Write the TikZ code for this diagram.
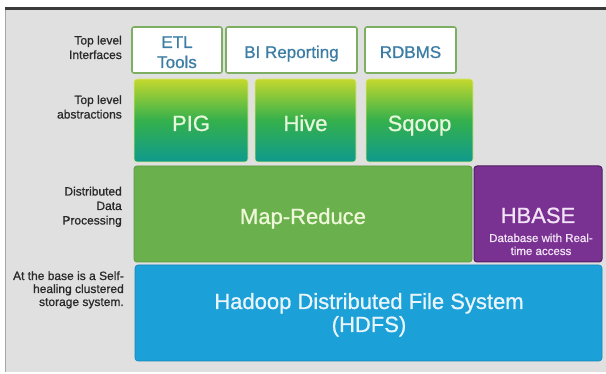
\documentclass[tikz,border=0pt]{standalone}
\usepackage{fontspec}
\setmainfont{Liberation Sans}
\newfontfamily\heavyfont{Liberation Sans}[FakeBold=0.9]
\definecolor{bggray}{HTML}{E0E0E0}
\definecolor{framedark}{HTML}{3A3A3A}
\definecolor{ifborder}{HTML}{7DAF62}
\definecolor{iftext}{HTML}{3C7DA6}
\definecolor{abtop}{HTML}{C3D82E}
\definecolor{abmid}{HTML}{34B04C}
\definecolor{abbot}{HTML}{0F9A8E}
\definecolor{abtext}{HTML}{E6F7DC}
\definecolor{mrfill}{HTML}{6AB04C}
\definecolor{mrborder}{HTML}{5A9A40}
\definecolor{mrtext}{HTML}{EEF7D8}
\definecolor{hbfill}{HTML}{7A3292}
\definecolor{hbborder}{HTML}{4E1F60}
\definecolor{hbtext}{HTML}{F2E4F6}
\definecolor{hdfill}{HTML}{1BA0D8}
\definecolor{hdborder}{HTML}{1688BA}
\definecolor{hdtext}{HTML}{EAF5FB}
\definecolor{lbltext}{HTML}{2A2A2A}
\begin{document}
\begin{tikzpicture}[x=1pt,y=-1pt,
  lbl/.style={anchor=base east, align=right, text=lbltext, font=\heavyfont\fontsize{12}{14.5}\selectfont, inner sep=0pt},
  ifbox/.style={draw=ifborder, line width=1.6pt, fill=white, rounded corners=2pt, inner sep=0pt},
  iftxt/.style={anchor=base, text=iftext, font=\heavyfont\fontsize{17}{20}\selectfont, align=center, inner sep=0pt},
  abbox/.style={draw=abtop!60!white, line width=0.6pt, top color=abtop, bottom color=abbot, middle color=abmid, rounded corners=3pt, inner sep=0pt},
  abtxt/.style={anchor=base, text=abtext, font=\heavyfont\fontsize{22}{24}\selectfont, inner sep=0pt},
  mrbox/.style={draw=mrborder, line width=0.8pt, fill=mrfill, rounded corners=3pt, inner sep=0pt},
  hbbox/.style={draw=hbborder, line width=1pt, fill=hbfill, rounded corners=3pt, inner sep=0pt},
  hdbox/.style={draw=hdborder, line width=0.6pt, fill=hdfill, rounded corners=3pt, inner sep=0pt},
  big/.style={anchor=base, inner sep=0pt, font=\heavyfont\fontsize{22}{24}\selectfont}
]
\useasboundingbox (0,0) rectangle (606,374);
% background panel
\fill[white] (0,0) rectangle (606,374);
\fill[bggray] (5,8) rectangle (606,372);
\draw[gray!70, line width=1pt] (5.5,8) -- (5.5,372);
\fill[framedark] (5,7) rectangle (606,10.5);

% top level interfaces
\node[ifbox, minimum width=90pt, minimum height=46pt] (etl) at (177,50) {};
\node[iftxt] (etlt) at (177,68) {ETL\\Tools};
\node[ifbox, minimum width=131pt, minimum height=46pt] (bi) at (291.5,50) {};
\node[iftxt] (bit) at (291.5,58) {BI Reporting};
\node[ifbox, minimum width=91pt, minimum height=46pt] (rdbms) at (410.5,50) {};
\node[iftxt] (rdbmst) at (410.5,58) {RDBMS};

% abstractions
\node[abbox, minimum width=114pt, minimum height=83pt] (pig) at (191,120.5) {};
\node[abtxt] (pigt) at (191,131) {PIG};
\node[abbox, minimum width=101pt, minimum height=83pt] (hive) at (305.5,120.5) {};
\node[abtxt] (hivet) at (305.5,131) {Hive};
\node[abbox, minimum width=107pt, minimum height=83pt] (sqoop) at (419.5,120.5) {};
\node[abtxt] (sqoopt) at (419.5,131) {Sqoop};

% map-reduce and hbase
\node[mrbox, minimum width=338pt, minimum height=96pt] (mr) at (303,214) {};
\node[big, text=mrtext] (mrt) at (303,224) {Map-Reduce};
\node[hbbox, minimum width=128pt, minimum height=96pt] (hb) at (538,214) {};
\node[big, text=hbtext] (hbt) at (538,223) {HBASE};
\node[text=hbtext, font=\heavyfont\fontsize{11.5}{13}\selectfont, align=center, inner sep=0pt, anchor=base] (hbs) at (541,255) {Database with Real-\\time access};

% hdfs
\node[hdbox, minimum width=467pt, minimum height=96pt] (hdfs) at (368.5,313) {};
\node[big, text=hdtext] (hdfs1) at (369,309) {Hadoop Distributed File System};
\node[big, text=hdtext] (hdfs2) at (369,332) {(HDFS)};

% left labels
\node[lbl] (l1) at (122,59) {Top level\\Interfaces};
\node[lbl] (l2) at (122,118.5) {Top level\\abstractions};
\node[lbl] (l3) at (122,224.5) {Distributed\\Data\\Processing};
\node[lbl, font=\heavyfont\fontsize{12}{13}\selectfont] (l4) at (124,306) {At the base is a Self-\\healing clustered\\storage system.};
\end{tikzpicture}
\end{document}
